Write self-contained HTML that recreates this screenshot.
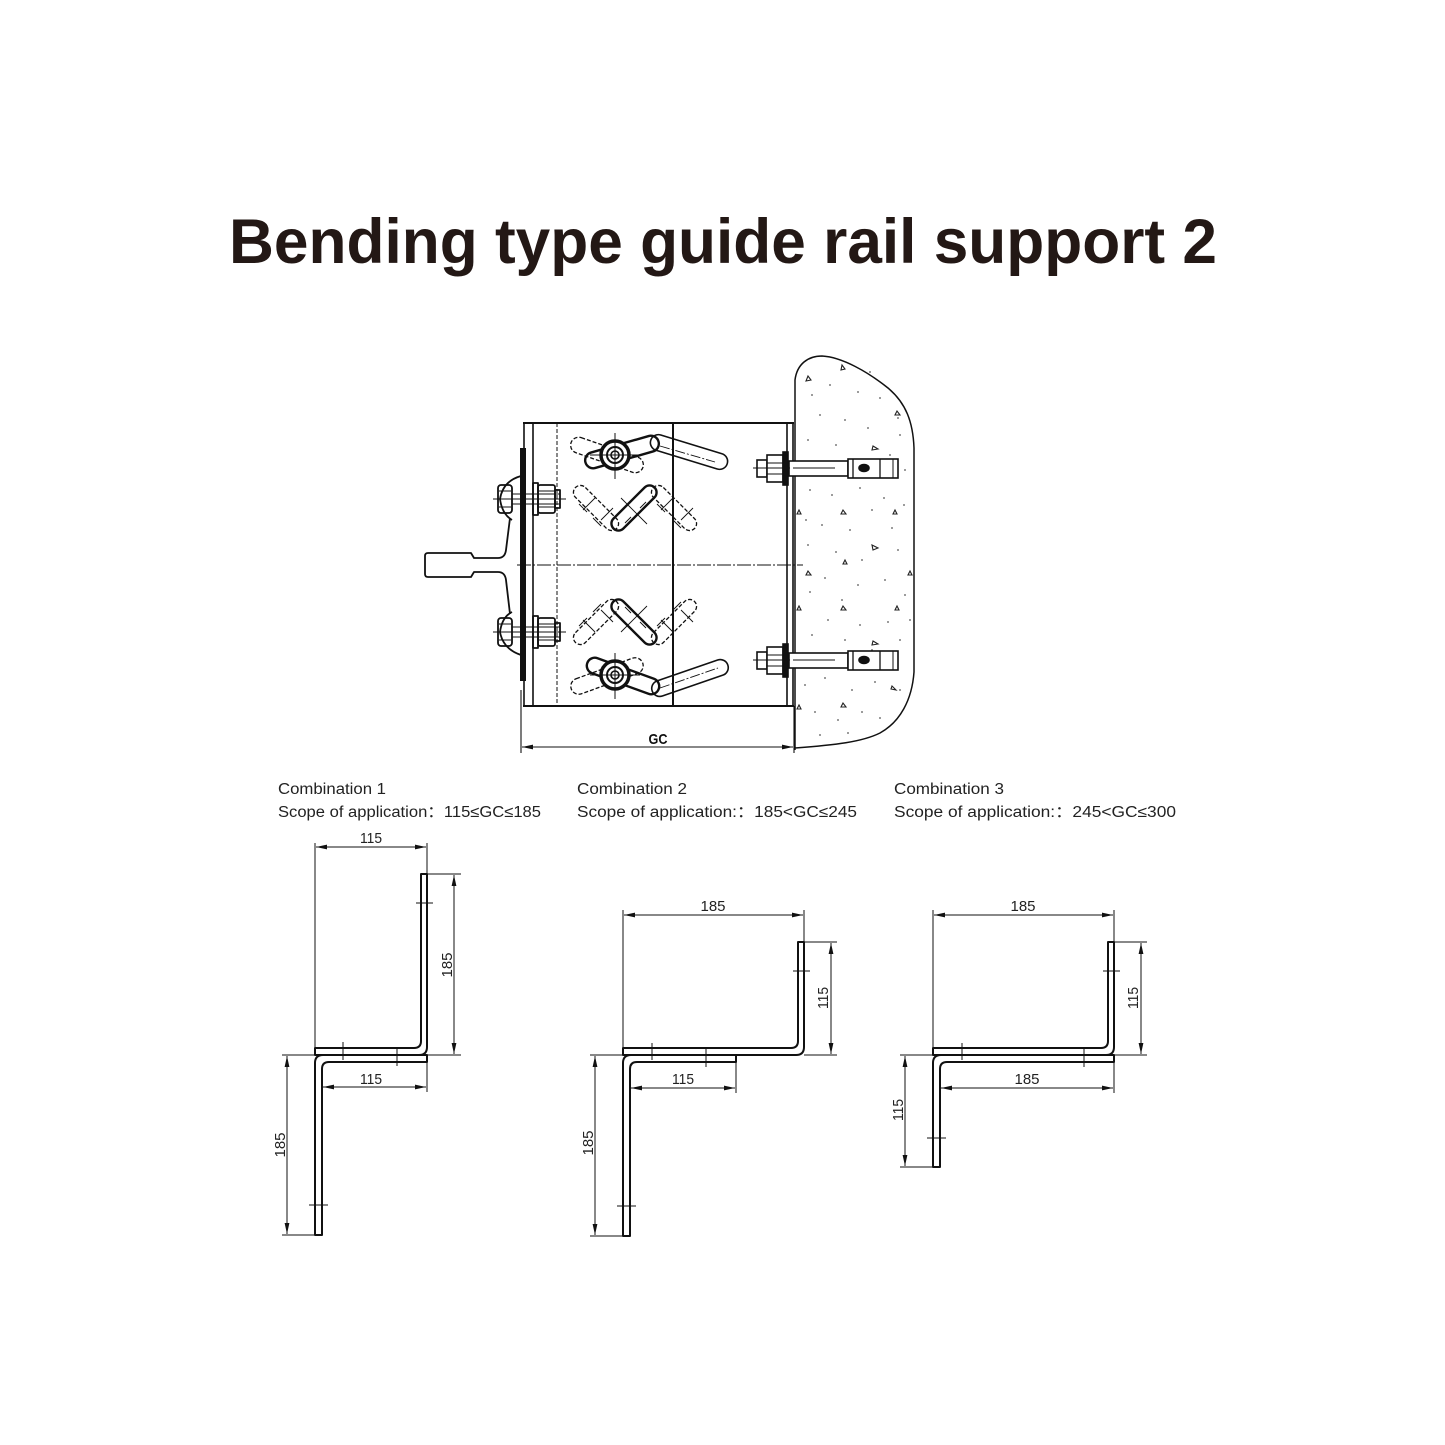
<!DOCTYPE html>
<html><head><meta charset="utf-8"><style>
html,body{margin:0;padding:0;background:#fff;}
svg{display:block;}
.t{font-family:"Liberation Sans","Noto Sans CJK SC",sans-serif;fill:#222;}
</style></head><body>
<svg width="1445" height="1445" viewBox="0 0 1445 1445" xmlns="http://www.w3.org/2000/svg">
<defs>
<marker id="ar" markerUnits="userSpaceOnUse" markerWidth="11" markerHeight="6" refX="11" refY="3" orient="auto-start-reverse">
<path d="M0,0.6 L11,3 L0,5.4 Z" fill="#111"/>
</marker>
</defs>
<rect width="1445" height="1445" fill="#fff"/>

<!-- Title -->
<text x="229" y="263" font-family="Liberation Sans, Arial, sans-serif" font-weight="bold" font-size="63" fill="#231815" textLength="988" lengthAdjust="spacingAndGlyphs">Bending type guide rail support 2</text>

<!-- ===== Main drawing ===== -->
<g fill="none" stroke="#111" stroke-width="1.6">
<!-- wall -->
<path d="M795,750 L795,380 C797,364 808,356 822,356 C842,357 868,372 888,388 C906,403 913,422 914,448 L914,672 C912,700 900,722 880,733 C862,742 835,745 795,748" stroke-width="1.5"/>
</g>
<g fill="#555">
<circle cx="812" cy="395" r="0.9"/><circle cx="830" cy="385" r="0.9"/><circle cx="858" cy="392" r="0.9"/><circle cx="880" cy="398" r="0.9"/><circle cx="820" cy="415" r="0.9"/><circle cx="845" cy="420" r="0.9"/><circle cx="868" cy="428" r="0.9"/><circle cx="900" cy="435" r="0.9"/><circle cx="808" cy="440" r="0.9"/><circle cx="836" cy="445" r="0.9"/><circle cx="890" cy="455" r="0.9"/><circle cx="818" cy="462" r="0.9"/><circle cx="905" cy="470" r="0.9"/><circle cx="810" cy="490" r="0.9"/><circle cx="832" cy="495" r="0.9"/><circle cx="860" cy="488" r="0.9"/><circle cx="884" cy="498" r="0.9"/><circle cx="904" cy="505" r="0.9"/><circle cx="822" cy="525" r="0.9"/><circle cx="850" cy="530" r="0.9"/><circle cx="892" cy="528" r="0.9"/><circle cx="808" cy="545" r="0.9"/><circle cx="836" cy="552" r="0.9"/><circle cx="862" cy="560" r="0.9"/><circle cx="898" cy="550" r="0.9"/><circle cx="825" cy="578" r="0.9"/><circle cx="858" cy="585" r="0.9"/><circle cx="885" cy="580" r="0.9"/><circle cx="810" cy="592" r="0.9"/><circle cx="905" cy="595" r="0.9"/><circle cx="828" cy="620" r="0.9"/><circle cx="860" cy="625" r="0.9"/><circle cx="888" cy="622" r="0.9"/><circle cx="812" cy="635" r="0.9"/><circle cx="845" cy="640" r="0.9"/><circle cx="900" cy="640" r="0.9"/><circle cx="805" cy="685" r="0.9"/><circle cx="825" cy="678" r="0.9"/><circle cx="852" cy="690" r="0.9"/><circle cx="875" cy="682" r="0.9"/><circle cx="900" cy="690" r="0.9"/><circle cx="815" cy="712" r="0.9"/><circle cx="838" cy="720" r="0.9"/><circle cx="862" cy="712" r="0.9"/><circle cx="880" cy="718" r="0.9"/><circle cx="820" cy="735" r="0.9"/><circle cx="848" cy="733" r="0.9"/><circle cx="870" cy="372" r="0.9"/><circle cx="898" cy="418" r="0.9"/><circle cx="872" cy="510" r="0.9"/><circle cx="842" cy="600" r="0.9"/><circle cx="872" cy="650" r="0.9"/><circle cx="910" cy="620" r="0.9"/><circle cx="806" cy="520" r="0.9"/>
</g>
<g fill="none" stroke="#222" stroke-width="1.1">
<path d="M806,381 l5,-1 l-3,-4 z"/><path d="M841,370 l4,-1 l-3,-4 z"/><path d="M895,415 l5,0 l-3,-4 z"/><path d="M873,446 l5,3 l-6,1 z"/><path d="M841,514 l5,0 l-3,-4 z"/><path d="M797,514 l4,0 l-2,-4 z"/><path d="M893,514 l4,0 l-2,-4 z"/><path d="M872,545 l6,3 l-5,2 z"/><path d="M843,564 l4,0 l-2,-4 z"/><path d="M806,575 l5,0 l-3,-4 z"/><path d="M908,575 l4,0 l-2,-4 z"/><path d="M797,610 l4,0 l-2,-4 z"/><path d="M841,610 l5,0 l-3,-4 z"/><path d="M895,610 l4,0 l-2,-4 z"/><path d="M873,641 l5,3 l-6,1 z"/><path d="M891,689 l5,1 l-4,-4 z"/><path d="M797,709 l4,0 l-2,-4 z"/><path d="M841,707 l5,0 l-3,-4 z"/>
</g>

<!-- frame -->
<g fill="none" stroke="#111">
<line x1="523" y1="423" x2="794" y2="423" stroke-width="2"/>
<line x1="523" y1="706" x2="794" y2="706" stroke-width="2"/>
<line x1="524" y1="423" x2="524" y2="706" stroke-width="1.6"/>
<line x1="533" y1="423" x2="533" y2="706" stroke-width="1.6"/>
<line x1="787" y1="423" x2="787" y2="706" stroke-width="1.6"/>
<line x1="793" y1="423" x2="793" y2="706" stroke-width="1.6"/>
<line x1="673" y1="423" x2="673" y2="706" stroke-width="2"/>
<line x1="557" y1="423" x2="557" y2="706" stroke-width="1" stroke-dasharray="4 2"/>
<line x1="517" y1="565" x2="803" y2="565" stroke-width="1" stroke-dasharray="14 2 2 2"/>
</g>
<!-- thick plate -->
<rect x="520" y="448" width="6" height="233" fill="#111"/>

<!-- left bracket with handle -->
<g fill="none" stroke="#111" stroke-width="1.8" stroke-linejoin="round">
<path d="M510,518 L506,550 Q505,558 498,558 L474,558 L471,553 L428,553 Q425,553 425,556 L425,574 Q425,577 428,577 L471,577 L474,572 L498,572 Q505,572 506,580 L510,614"/>
<path d="M521,476 Q503,481 500,499 Q502,514 512,520"/>
<path d="M512,612 Q502,617 500,632 Q503,649 521,655"/>
<!-- top bolt -->
<rect x="498" y="485" width="14" height="28" rx="3"/>
<line x1="499" y1="491" x2="511" y2="491" stroke-width="1"/><line x1="499" y1="507" x2="511" y2="507" stroke-width="1"/>
<line x1="512" y1="494" x2="560" y2="494" stroke-width="1"/><line x1="512" y1="504" x2="560" y2="504" stroke-width="1"/>
<rect x="533" y="483" width="5" height="32"/>
<rect x="538" y="485" width="17" height="28" rx="2"/>
<line x1="538" y1="491" x2="555" y2="491" stroke-width="1"/><line x1="538" y1="507" x2="555" y2="507" stroke-width="1"/>
<rect x="555" y="490" width="5" height="18"/>
<line x1="493" y1="499" x2="566" y2="499" stroke-width="1"/>
<!-- bottom bolt -->
<rect x="498" y="618" width="14" height="28" rx="3"/>
<line x1="499" y1="624" x2="511" y2="624" stroke-width="1"/><line x1="499" y1="640" x2="511" y2="640" stroke-width="1"/>
<line x1="512" y1="627" x2="560" y2="627" stroke-width="1"/><line x1="512" y1="637" x2="560" y2="637" stroke-width="1"/>
<rect x="533" y="616" width="5" height="32"/>
<rect x="538" y="618" width="17" height="28" rx="2"/>
<line x1="538" y1="624" x2="555" y2="624" stroke-width="1"/><line x1="538" y1="640" x2="555" y2="640" stroke-width="1"/>
<rect x="555" y="623" width="5" height="18"/>
<line x1="493" y1="632" x2="566" y2="632" stroke-width="1"/>
</g>

<!-- slots X pattern -->
<g fill="none" stroke="#111" stroke-width="1.3">
<rect x="-29" y="-7" width="58" height="14" rx="7" transform="translate(596,508) rotate(45)" stroke-dasharray="4 2"/>
<rect x="-29" y="-7" width="58" height="14" rx="7" transform="translate(634,508) rotate(-45)" stroke-width="2.4"/>
<rect x="-29" y="-7" width="58" height="14" rx="7" transform="translate(674,508) rotate(45)" stroke-dasharray="4 2"/>
<rect x="-29" y="-7" width="58" height="14" rx="7" transform="translate(596,622) rotate(-45)" stroke-dasharray="4 2"/>
<rect x="-29" y="-7" width="58" height="14" rx="7" transform="translate(634,622) rotate(45)" stroke-width="2.4"/>
<rect x="-29" y="-7" width="58" height="14" rx="7" transform="translate(674,622) rotate(-45)" stroke-dasharray="4 2"/>
<!-- slot crosses -->
<g stroke-width="0.9">
<path d="M583,510 l12,-12 M579,504 l8,8 M593,518 l8,8 M601,520 l12,-12"/>
<path d="M621,498 l26,26 M625,523 l6,-6 M640,508 l6,-6"/>
<path d="M661,510 l12,-12 M657,504 l8,8 M673,520 l8,8 M681,520 l12,-12"/>
<path d="M583,620 l12,12 M579,626 l8,-8 M593,612 l8,-8 M601,610 l12,12"/>
<path d="M621,632 l26,-26 M625,607 l6,6 M640,622 l6,6"/>
<path d="M661,620 l12,12 M657,626 l8,-8 M673,610 l8,-8 M681,610 l12,12"/>
</g>
<!-- top wing nut -->
<rect x="-38" y="-8" width="76" height="16" rx="8" transform="translate(607,455) rotate(19)" stroke-dasharray="4 2"/>
<rect x="-38" y="-8" width="76" height="16" rx="8" transform="translate(622,452) rotate(-16)" stroke-width="2.4"/>
<rect x="-40" y="-8" width="80" height="16" rx="8" transform="translate(689,452) rotate(17)" stroke-width="1.6"/>
<line x1="660" y1="446" x2="715" y2="462" stroke-width="0.9" stroke-dasharray="10 2 2 2"/>
<circle cx="615" cy="455" r="14" fill="#fff" stroke-width="3.5"/>
<circle cx="615" cy="455" r="8" stroke-width="2"/>
<circle cx="615" cy="455" r="4" stroke-width="1.6"/>
<line x1="615" y1="433" x2="615" y2="479" stroke-width="1"/>
<line x1="590" y1="455" x2="640" y2="455" stroke-width="1"/>
<!-- bottom wing nut -->
<rect x="-38" y="-8" width="76" height="16" rx="8" transform="translate(607,676) rotate(-20)" stroke-dasharray="4 2"/>
<rect x="-38" y="-8" width="76" height="16" rx="8" transform="translate(623,676) rotate(20)" stroke-width="2.4"/>
<rect x="-40" y="-8" width="80" height="16" rx="8" transform="translate(690,678) rotate(-19)" stroke-width="1.6"/>
<line x1="660" y1="688" x2="718" y2="668" stroke-width="0.9" stroke-dasharray="10 2 2 2"/>
<circle cx="615" cy="675" r="14" fill="#fff" stroke-width="3.5"/>
<circle cx="615" cy="675" r="8" stroke-width="2"/>
<circle cx="615" cy="675" r="4" stroke-width="1.6"/>
<line x1="615" y1="653" x2="615" y2="699" stroke-width="1"/>
<line x1="590" y1="675" x2="640" y2="675" stroke-width="1"/>
</g>

<!-- anchor bolts -->
<g fill="#fff" stroke="#111" stroke-width="1.6">
<g id="ab">
<rect x="789" y="461" width="59" height="15"/>
<line x1="793" y1="468" x2="835" y2="468" stroke-width="0.9"/>
<rect x="848" y="459" width="50" height="19"/>
<line x1="853" y1="459" x2="853" y2="478" stroke-width="1.3"/>
<line x1="880" y1="459" x2="880" y2="478" stroke-width="1.3"/>
<line x1="893" y1="459" x2="893" y2="478" stroke-width="1"/>
<ellipse cx="864" cy="468" rx="5" ry="3.5" fill="#111"/>
<rect x="757" y="460" width="10" height="17"/>
<rect x="767" y="455" width="16" height="27"/>
<line x1="767" y1="463" x2="783" y2="463" stroke-width="1"/>
<line x1="767" y1="474" x2="783" y2="474" stroke-width="1"/>
<rect x="783" y="452" width="5" height="33" fill="#111"/>
<line x1="753" y1="468" x2="790" y2="468" stroke-width="0.9"/>
</g>
<use href="#ab" transform="translate(0,192)"/>
</g>

<!-- GC dimension -->
<g stroke="#111" stroke-width="1.1" fill="none">
<line x1="521" y1="690" x2="521" y2="753"/>
<line x1="794" y1="706" x2="794" y2="753"/>
<line x1="522" y1="747" x2="793" y2="747" marker-start="url(#ar)" marker-end="url(#ar)"/>
</g>
<text x="658" y="744" font-family="Liberation Sans, sans-serif" font-weight="bold" font-size="15" fill="#111" text-anchor="middle" textLength="19" lengthAdjust="spacingAndGlyphs">GC</text>

<!-- ===== Combination labels ===== -->
<g class="t" font-size="15.5">
<text x="278" y="794" textLength="108" lengthAdjust="spacingAndGlyphs">Combination 1</text>
<text x="278" y="817" textLength="263" lengthAdjust="spacingAndGlyphs">Scope of application：115≤GC≤185</text>
<text x="577" y="794" textLength="110" lengthAdjust="spacingAndGlyphs">Combination 2</text>
<text x="577" y="817" textLength="280" lengthAdjust="spacingAndGlyphs">Scope of application:：185&lt;GC≤245</text>
<text x="894" y="794" textLength="110" lengthAdjust="spacingAndGlyphs">Combination 3</text>
<text x="894" y="817" textLength="282" lengthAdjust="spacingAndGlyphs">Scope of application:：245&lt;GC≤300</text>
</g>

<!-- ===== Combination 1 ===== -->
<g fill="#fff" stroke="#111" stroke-width="2" stroke-linejoin="round">
<path d="M421,874 L427,874 L427,1047 Q427,1055 419,1055 L315,1055 L315,1048 L414,1048 Q421,1048 421,1041 Z"/>
<path d="M427,1055 L427,1062 L329,1062 Q322,1062 322,1069 L322,1235 L315,1235 L315,1063 Q315,1055 323,1055 Z"/>
</g>
<g stroke="#111" stroke-width="1" fill="none">
<line x1="315" y1="843" x2="315" y2="1048"/>
<line x1="427" y1="843" x2="427" y2="874"/>
<line x1="316" y1="847" x2="426" y2="847" marker-start="url(#ar)" marker-end="url(#ar)"/>
<line x1="427" y1="874" x2="461" y2="874"/>
<line x1="427" y1="1055" x2="461" y2="1055"/>
<line x1="454" y1="875" x2="454" y2="1054" marker-start="url(#ar)" marker-end="url(#ar)"/>
<line x1="427" y1="1062" x2="427" y2="1092"/>
<line x1="323" y1="1087" x2="426" y2="1087" marker-start="url(#ar)" marker-end="url(#ar)"/>
<line x1="282" y1="1055" x2="315" y2="1055"/>
<line x1="282" y1="1235" x2="315" y2="1235"/>
<line x1="287" y1="1056" x2="287" y2="1234" marker-start="url(#ar)" marker-end="url(#ar)"/>
<line x1="416" y1="903" x2="433" y2="903"/>
<line x1="343" y1="1042" x2="343" y2="1060"/>
<line x1="397" y1="1048" x2="397" y2="1066"/>
<line x1="309" y1="1205" x2="328" y2="1205"/>
</g>
<g class="t" font-size="15">
<text x="371" y="843" text-anchor="middle" textLength="22" lengthAdjust="spacingAndGlyphs">115</text>
<text x="371" y="1084" text-anchor="middle" textLength="22" lengthAdjust="spacingAndGlyphs">115</text>
<text transform="translate(452,965) rotate(-90)" text-anchor="middle" textLength="25" lengthAdjust="spacingAndGlyphs">185</text>
<text transform="translate(285,1145) rotate(-90)" text-anchor="middle" textLength="25" lengthAdjust="spacingAndGlyphs">185</text>
</g>

<!-- ===== Combination 2 ===== -->
<g fill="#fff" stroke="#111" stroke-width="2" stroke-linejoin="round">
<path d="M798,942 L804,942 L804,1047 Q804,1055 796,1055 L623,1055 L623,1048 L791,1048 Q798,1048 798,1041 Z"/>
<path d="M736,1055 L736,1062 L637,1062 Q630,1062 630,1069 L630,1236 L623,1236 L623,1063 Q623,1055 631,1055 Z"/>
</g>
<g stroke="#111" stroke-width="1" fill="none">
<line x1="623" y1="910" x2="623" y2="1048"/>
<line x1="804" y1="910" x2="804" y2="942"/>
<line x1="624" y1="915" x2="803" y2="915" marker-start="url(#ar)" marker-end="url(#ar)"/>
<line x1="804" y1="942" x2="837" y2="942"/>
<line x1="804" y1="1055" x2="837" y2="1055"/>
<line x1="831" y1="943" x2="831" y2="1054" marker-start="url(#ar)" marker-end="url(#ar)"/>
<line x1="736" y1="1062" x2="736" y2="1093"/>
<line x1="631" y1="1088" x2="735" y2="1088" marker-start="url(#ar)" marker-end="url(#ar)"/>
<line x1="590" y1="1055" x2="623" y2="1055"/>
<line x1="590" y1="1236" x2="623" y2="1236"/>
<line x1="595" y1="1056" x2="595" y2="1235" marker-start="url(#ar)" marker-end="url(#ar)"/>
<line x1="793" y1="971" x2="810" y2="971"/>
<line x1="652" y1="1043" x2="652" y2="1060"/>
<line x1="706" y1="1049" x2="706" y2="1067"/>
<line x1="617" y1="1206" x2="636" y2="1206"/>
</g>
<g class="t" font-size="15">
<text x="713" y="911" text-anchor="middle" textLength="25" lengthAdjust="spacingAndGlyphs">185</text>
<text x="683" y="1084" text-anchor="middle" textLength="22" lengthAdjust="spacingAndGlyphs">115</text>
<text transform="translate(828,998) rotate(-90)" text-anchor="middle" textLength="22" lengthAdjust="spacingAndGlyphs">115</text>
<text transform="translate(593,1143) rotate(-90)" text-anchor="middle" textLength="25" lengthAdjust="spacingAndGlyphs">185</text>
</g>

<!-- ===== Combination 3 ===== -->
<g fill="#fff" stroke="#111" stroke-width="2" stroke-linejoin="round">
<path d="M1108,942 L1114,942 L1114,1047 Q1114,1055 1106,1055 L933,1055 L933,1048 L1101,1048 Q1108,1048 1108,1041 Z"/>
<path d="M1114,1055 L1114,1062 L947,1062 Q940,1062 940,1069 L940,1167 L933,1167 L933,1063 Q933,1055 941,1055 Z"/>
</g>
<g stroke="#111" stroke-width="1" fill="none">
<line x1="933" y1="910" x2="933" y2="1048"/>
<line x1="1114" y1="910" x2="1114" y2="942"/>
<line x1="934" y1="915" x2="1113" y2="915" marker-start="url(#ar)" marker-end="url(#ar)"/>
<line x1="1114" y1="942" x2="1147" y2="942"/>
<line x1="1114" y1="1055" x2="1147" y2="1055"/>
<line x1="1141" y1="943" x2="1141" y2="1054" marker-start="url(#ar)" marker-end="url(#ar)"/>
<line x1="1114" y1="1062" x2="1114" y2="1093"/>
<line x1="941" y1="1088" x2="1113" y2="1088" marker-start="url(#ar)" marker-end="url(#ar)"/>
<line x1="900" y1="1055" x2="933" y2="1055"/>
<line x1="900" y1="1167" x2="933" y2="1167"/>
<line x1="905" y1="1056" x2="905" y2="1166" marker-start="url(#ar)" marker-end="url(#ar)"/>
<line x1="1103" y1="971" x2="1120" y2="971"/>
<line x1="962" y1="1043" x2="962" y2="1060"/>
<line x1="1084" y1="1049" x2="1084" y2="1067"/>
<line x1="927" y1="1138" x2="946" y2="1138"/>
</g>
<g class="t" font-size="15">
<text x="1023" y="911" text-anchor="middle" textLength="25" lengthAdjust="spacingAndGlyphs">185</text>
<text x="1027" y="1084" text-anchor="middle" textLength="25" lengthAdjust="spacingAndGlyphs">185</text>
<text transform="translate(1138,998) rotate(-90)" text-anchor="middle" textLength="22" lengthAdjust="spacingAndGlyphs">115</text>
<text transform="translate(903,1110) rotate(-90)" text-anchor="middle" textLength="22" lengthAdjust="spacingAndGlyphs">115</text>
</g>
</svg>
</body></html>
